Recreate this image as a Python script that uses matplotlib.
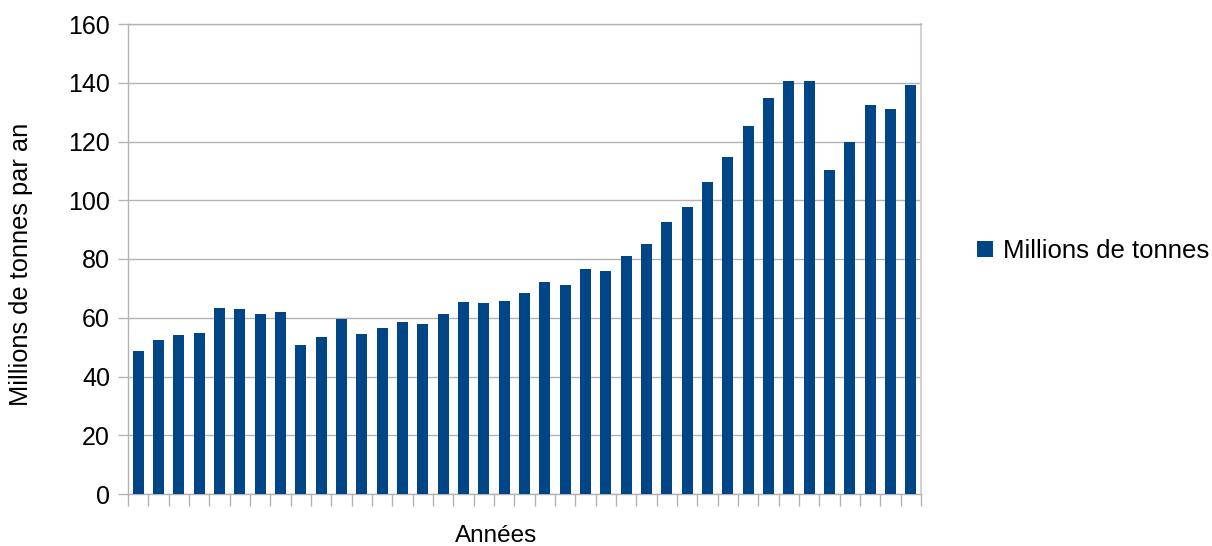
import numpy as np
import matplotlib
matplotlib.use("Agg")
import matplotlib.pyplot as plt
from matplotlib.ticker import FixedLocator, NullFormatter

plt.rcParams['font.family'] = ['Liberation Sans', 'DejaVu Sans']

# valeurs (millions de tonnes par an), une barre par annee
valeurs = [48.6, 52.4, 54.1, 54.8, 63.3, 63.0, 61.3, 61.9, 50.7, 53.4,
           59.5, 54.4, 56.5, 58.5, 57.8, 61.3, 65.3, 65.0, 65.7, 68.4,
           72.1, 71.1, 76.5, 75.8, 80.9, 85.1, 92.6, 97.6, 106.1, 114.6,
           125.4, 134.9, 140.5, 140.5, 110.2, 120.0, 132.3, 130.9, 139.1]
serie = "Millions de tonnes"
y_ticks = [0, 20, 40, 60, 80, 100, 120, 140, 160]

couleur = '#004586'
gris = '#b3b3b3'

fig = plt.figure(figsize=(12.12, 5.46), dpi=100)
ax = fig.add_axes([128 / 1212, 1 - 494 / 546, 793 / 1212, 470 / 546])

x = np.arange(len(valeurs))
ax.bar(x, valeurs, width=0.54, color=couleur, label=serie, zorder=3)

ax.set_xlim(-0.5, len(valeurs) - 0.5)
ax.set_ylim(0, 160)
ax.set_yticks(y_ticks)
ax.yaxis.grid(True, color=gris, linewidth=1.0, zorder=0)
ax.set_axisbelow(True)

# petites graduations entre les categories, pas de libelles
ax.xaxis.set_major_locator(FixedLocator(np.arange(-0.5, len(valeurs), 1.0)))
ax.xaxis.set_major_formatter(NullFormatter())
ax.tick_params(axis='x', direction='out', length=8.5, width=1, color=gris)
ax.tick_params(axis='y', direction='out', length=7, width=1, color=gris,
               labelsize=18, pad=6)

for s in ['left', 'bottom', 'top']:
    ax.spines[s].set_color(gris)
    ax.spines[s].set_linewidth(1)
ax.spines['right'].set_color('#d4d4d4')
ax.spines['right'].set_linewidth(1.5)

ax.set_ylabel("Millions de tonnes par an", fontsize=18.3)
ax.yaxis.set_label_coords((33 - 128) / 793, 0.488)
ax.set_xlabel("Années", fontsize=17.5)
ax.xaxis.set_label_coords((496 - 128) / 793, -0.067)

ax.legend(loc='center left', bbox_to_anchor=(1.042, 0.517), frameon=False,
          fontsize=18.5, handlelength=0.62, handleheight=0.62, handletextpad=0.36)

fig.savefig("out.png", dpi=100)
